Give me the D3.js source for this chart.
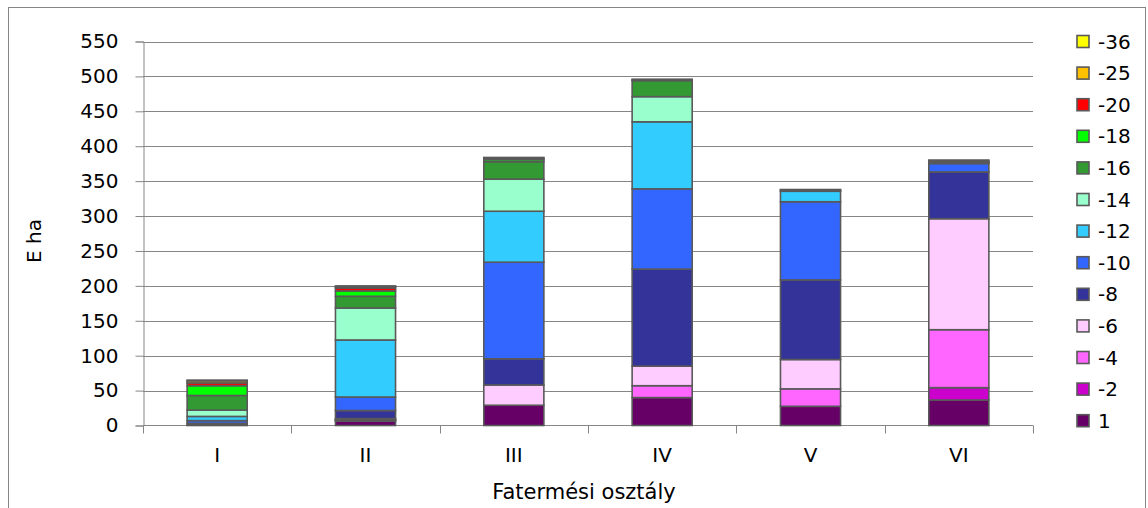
<!DOCTYPE html>
<html><head><meta charset="utf-8">
<script src="https://cdn.jsdelivr.net/npm/d3@7"></script>
<style>body{margin:0;background:#fff}svg{display:block}text{font-family:"DejaVu Sans",sans-serif;fill:#000}</style>
</head><body>
<script>
const categories = ["I","II","III","IV","V","VI"];
const seriesNames = ["1","-2","-4","-6","-8","-10","-12","-14","-16","-18","-20","-25","-36"];
const seriesColors = ["#660066","#CC00CC","#FF66FF","#FFCCFF","#333399","#3366FF","#33CCFF","#99FFCC","#339933","#00FF00","#FF0000","#FFC000","#FFFF00"];
const s1   = [0, 6.4, 29, 40, 27.5, 36.5];
const s2   = [0, 1, 0, 0, 0, 17.7];
const s4   = [0, 1, 0, 17, 25, 83];
const s6   = [1, 1.6, 29, 28, 42, 159];
const s8   = [2, 11.5, 37.5, 139, 114, 67];
const s10  = [4, 19.3, 138.4, 115, 112, 12];
const s12  = [6, 81.7, 73, 96, 15, 2];
const s14  = [9, 45.8, 46, 36, 1.5, 1];
const s16  = [21, 16.8, 25, 23, 1, 2];
const s18  = [14, 7.6, 3, 1, 0, 0];
const s20  = [4, 4.3, 2, 1, 0, 0];
const s25  = [3, 2, 1, 0, 0, 0];
const s36  = [1, 0.9, 0, 0, 0, 0];
const seriesValues = [s1,s2,s4,s6,s8,s10,s12,s14,s16,s18,s20,s25,s36];
const yTicks = [0,50,100,150,200,250,300,350,400,450,500,550];

const W = 1148, H = 508;
const FS = "20px";
const svg = d3.select("body").append("svg").attr("width", W).attr("height", H);

// outer chart border
svg.append("rect").attr("x", 8.5).attr("y", 7.5).attr("width", 1137).attr("height", 520)
  .attr("fill", "none").attr("stroke", "#868686").attr("stroke-width", 1);

const x0 = 143, x1 = 1033;
const y = d3.scaleLinear().domain([0, 550]).range([425.5, 41.5]);
const x = d3.scaleBand().domain(categories).range([x0, x1]).paddingInner(0.595).paddingOuter(0.2975);

// gridlines
svg.append("g").selectAll("line").data(yTicks.filter(d => d > 0)).join("line")
  .attr("x1", x0).attr("x2", x1).attr("y1", d => Math.round(y(d)) + 0.5).attr("y2", d => Math.round(y(d)) + 0.5)
  .attr("stroke", "#868686").attr("stroke-width", 1);

// y axis
const yAxis = svg.append("g").attr("transform", `translate(${x0 + 0.5},0)`)
  .call(d3.axisLeft(y).tickValues(yTicks).tickSize(8).tickPadding(17).tickFormat(d3.format("d")));
yAxis.select(".domain").attr("stroke", "#868686");
yAxis.selectAll(".tick line").attr("stroke", "#868686");
yAxis.selectAll(".tick text").style("font-size", FS).style("font-family", "'DejaVu Sans', sans-serif").attr("fill", "#000");

// x axis
const boundaries = categories.map((c, i) => x0 + i * x.step()).concat([x1]);
svg.append("line").attr("x1", x0).attr("x2", x1).attr("y1", y(0)).attr("y2", y(0)).attr("stroke", "#868686");
svg.append("g").selectAll("line").data(boundaries).join("line")
  .attr("x1", d => Math.round(d) + 0.5).attr("x2", d => Math.round(d) + 0.5)
  .attr("y1", y(0)).attr("y2", y(0) + 8).attr("stroke", "#868686");
svg.append("g").selectAll("text").data(categories).join("text")
  .attr("x", d => x(d) + x.bandwidth() / 2).attr("y", 462).attr("text-anchor", "middle")
  .style("font-size", FS).text(d => d);

// stacked bars
const table = categories.map((c, i) => {
  const o = {cat: c};
  seriesNames.forEach((s, j) => o[s] = seriesValues[j][i]);
  return o;
});
const stack = d3.stack().keys(seriesNames)(table);
const g = svg.append("g");
stack.forEach((layer, j) => {
  g.append("g").selectAll("rect").data(layer.filter(d => d[1] - d[0] > 0)).join("rect")
    .attr("x", d => x(d.data.cat)).attr("width", x.bandwidth())
    .attr("y", d => y(d[1])).attr("height", d => y(d[0]) - y(d[1]))
    .attr("fill", seriesColors[j]).attr("stroke", "#595959").attr("stroke-width", 1.6);
});

// axis titles
svg.append("text").attr("transform", "translate(41,241) rotate(-90)").attr("text-anchor", "middle")
  .style("font-size", FS).text("E ha");
svg.append("text").attr("x", 584).attr("y", 499).attr("text-anchor", "middle")
  .style("font-size", "21px").text("Fatermési osztály");

// legend
const leg = svg.append("g");
const order = seriesNames.map((s, j) => j).reverse();
order.forEach((j, k) => {
  const cy = 41.5 + k * 31.6;
  leg.append("rect").attr("x", 1077).attr("y", cy - 6).attr("width", 12).attr("height", 12)
    .attr("fill", seriesColors[j]).attr("stroke", "#595959").attr("stroke-width", 1.6);
  leg.append("text").attr("x", 1098).attr("y", cy + 7).style("font-size", FS).text(seriesNames[j]);
});
</script>
</body></html>
